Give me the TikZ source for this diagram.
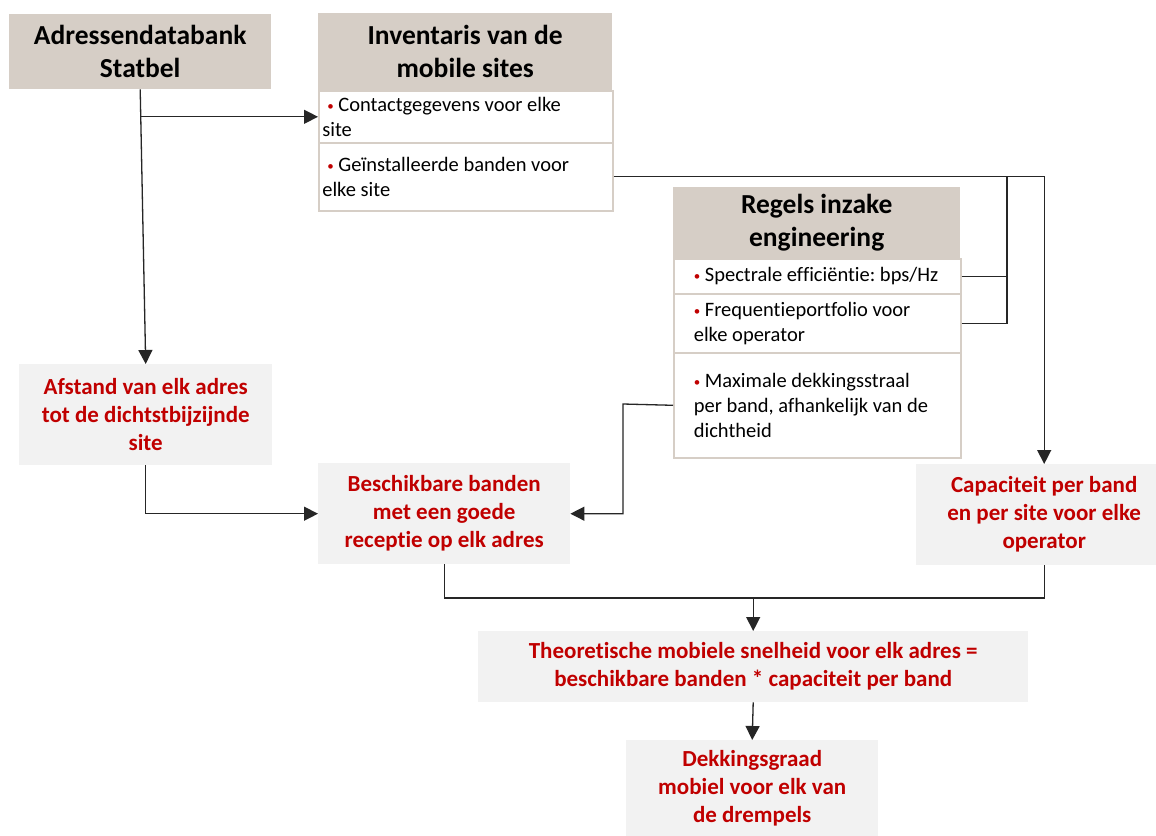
\documentclass[tikz,border=0pt]{standalone}
\usepackage{fontspec}
\setmainfont{Carlito}[Ligatures=NoCommon]
\usetikzlibrary{arrows.meta,calc}
\definecolor{taupe}{HTML}{D6CEC6}
\definecolor{lgray}{HTML}{F2F2F2}
\definecolor{dred}{HTML}{C00000}
\newcommand{\rb}{\raisebox{1.2pt}{\fontsize{13}{13}\selectfont\color{dred}•}\ }
\frenchspacing
\begin{document}
\begin{tikzpicture}[x=1pt,y=-1pt,
  hdr/.style={fill=taupe,draw=none,anchor=north west,align=center,inner sep=0pt,
    font=\fontsize{27.5}{33}\selectfont\bfseries},
  rowbox/.style={fill=white,draw=taupe,line width=1.6pt,anchor=north west,align=flush left,
    font=\fontsize{20.5}{25}\selectfont},
  outbox/.style={fill=lgray,draw=none,anchor=north west,align=center,inner sep=0pt,
    text=dred,font=\fontsize{23}{28}\selectfont\bfseries},
  conn/.style={draw=black!85,line width=1.3pt},
  arr/.style={conn,-{Triangle[length=14pt,width=14pt]}}
]
\clip (0,0) rectangle (1156,835);
\fill[white] (0,0) rectangle (1156,835);

% sources
\node[hdr,minimum width=262,minimum height=75] (A) at (9,14) {Adressendatabank\\Statbel};

\node[hdr,minimum width=294,minimum height=77] (inv) at (318,13) {Inventaris van de\\mobile sites};
\node[rowbox,minimum height=52,text width=287,inner xsep=3.5pt] (inv1) at (318,90)
  {\hspace*{5pt}\rb Contactgegevens voor elke\\site};
\node[rowbox,minimum height=68,text width=287,inner xsep=3.5pt] (inv2) at (318,142)
  {\hspace*{5pt}\rb Geïnstalleerde banden voor\\elke site};

\node[hdr,minimum width=287,minimum height=71] (reg) at (673,187) {Regels inzake\\engineering};
\node[rowbox,minimum height=35,text width=271,inner xsep=8pt] (reg1) at (673,258)
  {\hspace*{12pt}\rb Spectrale efficiëntie: bps/Hz};
\node[rowbox,minimum height=59,text width=271,inner xsep=8pt] (reg2) at (673,293)
  {\hspace*{12pt}\rb Frequentieportfolio voor\\\hspace*{12pt}elke operator};
\node[rowbox,minimum height=105,text width=271,inner xsep=8pt] (reg3) at (673,352)
  {\hspace*{12pt}\rb Maximale dekkingsstraal\\\hspace*{12pt}per band, afhankelijk van de\\\hspace*{12pt}dichtheid};

% results
\node[outbox,minimum width=253,minimum height=101] (afst) at (19,364)
  {Afstand van elk adres\\tot de dichtstbijzijnde\\site};
\node[outbox,minimum width=252,minimum height=101] (besch) at (318,463)
  {Beschikbare banden\\met een goede\\receptie op elk adres};
\node[outbox,minimum width=256,minimum height=101] (cap) at (916,464)
  {Capaciteit per band\\en per site voor elke\\operator};
\node[outbox,minimum width=550,minimum height=71] (theo) at (478,631)
  {Theoretische mobiele snelheid voor elk adres =\\beschikbare banden * capaciteit per band};
\node[outbox,minimum width=252,minimum height=96] (dek) at (626,740)
  {Dekkingsgraad\\mobiel voor elk van\\de drempels};

% helper coordinates
\coordinate (b1) at ($(A.south)!0.098!(afst.north)$);
\coordinate (j) at (1007,176);
\coordinate (k) at (623,404);
\coordinate (m) at ($(theo.north)+(0,-33)$);

% connectors
\draw[arr] (A.south) -- (afst.north);
\draw[arr] (b1 |- inv1.west) -- (inv1.west);
\draw[arr] (inv2.east) -- (inv2.east -| cap.north) -- (cap.north);
\draw[conn] (reg1.east) -- (reg1.east -| j) -- (j);
\draw[conn] (reg2.east) -- (reg2.east -| j) -- (j);
\draw[arr] (reg3.west) -- (k) |- (besch.east);
\draw[arr] (afst.south) |- (besch.west);
\draw[conn] (besch.south) |- (m) -| (cap.south);
\draw[arr] (m) -- (theo.north);
\draw[arr] (theo.south) -- (dek.north);
\end{tikzpicture}
\end{document}
